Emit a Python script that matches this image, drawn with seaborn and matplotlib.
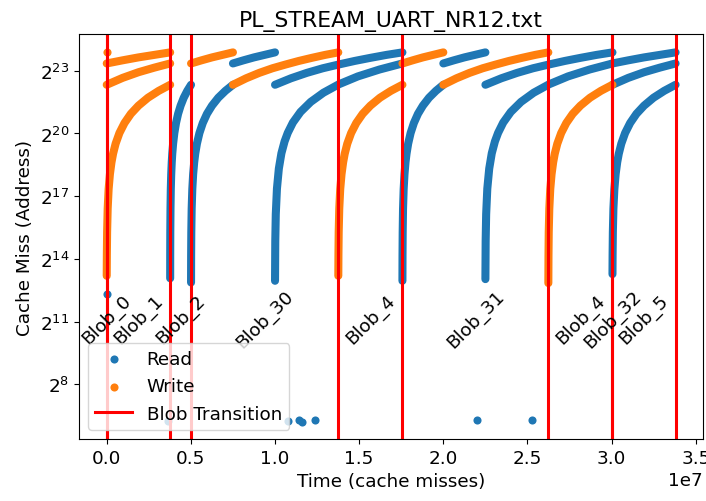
import numpy as np
import pandas as pd
import matplotlib
matplotlib.use('Agg')
import matplotlib.pyplot as plt
import seaborn as sns

plt.rcParams['font.family'] = ['DejaVu Sans']
plt.rcParams['font.size'] = 13.2

# Blob transitions (millions of cache misses), two pairs coincide
transitions = [0.0, 0.0, 3.77, 5.01, 13.76, 17.57, 26.24, 30.05, 30.05, 33.80]
blob_names = ['Blob_0', 'Blob_1', 'Blob_2', 'Blob_30', 'Blob_4',
              'Blob_31', 'Blob_4', 'Blob_32', 'Blob_5']

# address levels (log2)
band_mid_top = [23.35, 23.50, 23.64, 23.76, 23.88]
band_low_mid = [22.33, 22.66, 22.93, 23.15, 23.35]
band_low_top = [22.33, 22.64, 22.90, 23.12, 23.30, 23.47, 23.62, 23.76, 23.88]

# ---- Read streams: time (1e6 misses) and log2 address ----
r1_t = [3.77, 3.772, 3.777, 3.789, 3.807, 3.832, 3.863, 3.894, 3.944, 4.018, 4.117, 4.241, 4.39, 4.576, 4.787, 5.01]
r1_p = [13.07, 14.18, 15.27, 16.40, 17.34, 18.05, 18.62, 19.03, 19.51, 20.02, 20.50, 20.94, 21.33, 21.71, 22.04, 22.33]
r2_t = [5.01, 5.015, 5.025, 5.047, 5.085, 5.135, 5.197, 5.259, 5.359, 5.508, 5.707, 5.956, 6.255, 6.629, 7.052, 7.5]
r2_p = [12.87, 14.15, 15.26, 16.40, 17.34, 18.05, 18.62, 19.03, 19.51, 20.02, 20.50, 20.94, 21.33, 21.71, 22.04, 22.33]
r3_t = [7.5, 8.125, 8.75, 9.375, 10.0]
r4_t = [10.0, 10.015, 10.045, 10.114, 10.227, 10.379, 10.568, 10.757, 11.06, 11.514, 12.12, 12.877, 13.785, 14.921, 16.207, 17.57]
r4_p = [12.95, 14.85, 16.14, 17.36, 18.32, 19.05, 19.62, 20.03, 20.52, 21.03, 21.51, 21.95, 22.35, 22.73, 23.06, 23.35]
r5_t = [10.0, 10.946, 11.893, 12.839, 13.785, 14.731, 15.678, 16.624, 17.57]
r6_t = [17.57, 17.575, 17.585, 17.606, 17.643, 17.692, 17.752, 17.813, 17.91, 18.056, 18.25, 18.493, 18.785, 19.15, 19.563, 20.0]
r6_p = [12.95, 14.17, 15.27, 16.40, 17.34, 18.05, 18.62, 19.03, 19.51, 20.02, 20.50, 20.94, 21.33, 21.71, 22.04, 22.33]
r7_t = [20.0, 20.625, 21.25, 21.875, 22.5]
r8_t = [22.5, 22.515, 22.545, 22.613, 22.727, 22.878, 23.066, 23.255, 23.557, 24.01, 24.614, 25.369, 26.275, 27.408, 28.691, 30.05]
r8_p = [13.03, 14.85, 16.14, 17.36, 18.32, 19.05, 19.62, 20.03, 20.52, 21.03, 21.51, 21.95, 22.35, 22.73, 23.06, 23.35]
r9_t = [22.5, 23.444, 24.388, 25.331, 26.275, 27.219, 28.163, 29.106, 30.05]
r10_t = [30.05, 30.988, 31.925, 32.863, 33.8]
r12_t = [30.05, 30.058, 30.073, 30.106, 30.163, 30.238, 30.331, 30.425, 30.575, 30.8, 31.1, 31.475, 31.925, 32.488, 33.125, 33.8]
r12_p = [13.27, 14.23, 15.29, 16.41, 17.34, 18.05, 18.62, 19.03, 19.51, 20.02, 20.50, 20.94, 21.33, 21.71, 22.04, 22.33]

# isolated read misses
read_dot_t = [0.0, 3.66, 10.8, 11.4, 11.6, 12.4, 22.0, 25.25]
read_dot_p = [12.32, 6.25, 6.22, 6.27, 6.20, 6.29, 6.29, 6.29]

# ---- Write streams ----
w1_t = [0.0, 0.943, 1.885, 2.828, 3.77]
w3_t = [0.0, 0.008, 0.023, 0.057, 0.113, 0.189, 0.283, 0.377, 0.528, 0.754, 1.056, 1.433, 1.885, 2.451, 3.091, 3.77]
w3_p = [13.19, 14.20, 15.28, 16.41, 17.34, 18.05, 18.62, 19.03, 19.51, 20.02, 20.50, 20.94, 21.33, 21.71, 22.04, 22.33]
w4_t = [5.01, 5.633, 6.255, 6.878, 7.5]
w5_t = [7.5, 8.283, 9.065, 9.848, 10.63, 11.413, 12.195, 12.978, 13.76]
w6_t = [13.76, 13.768, 13.783, 13.817, 13.874, 13.951, 14.046, 14.141, 14.293, 14.522, 14.827, 15.208, 15.665, 16.237, 16.884, 17.57]
w6_p = [13.19, 14.20, 15.28, 16.41, 17.34, 18.05, 18.62, 19.03, 19.51, 20.02, 20.50, 20.94, 21.33, 21.71, 22.04, 22.33]
w7_t = [17.57, 18.178, 18.785, 19.393, 20.0]
w8_t = [20.0, 20.78, 21.56, 22.34, 23.12, 23.9, 24.68, 25.46, 26.24]
w9_t = [26.24, 26.248, 26.263, 26.297, 26.354, 26.431, 26.526, 26.621, 26.773, 27.002, 27.307, 27.688, 28.145, 28.717, 29.364, 30.05]
w9_p = [12.84, 14.13, 15.26, 16.40, 17.34, 18.05, 18.62, 19.03, 19.51, 20.02, 20.50, 20.94, 21.33, 21.71, 22.04, 22.33]

write_dot_t = [0.0]
write_dot_p = [23.88]

read_segments = [(r1_t, r1_p), (r2_t, r2_p), (r3_t, band_mid_top), (r4_t, r4_p),
                 (r5_t, band_low_top), (r6_t, r6_p), (r7_t, band_mid_top), (r8_t, r8_p),
                 (r9_t, band_low_top), (r10_t, band_mid_top), (r10_t, band_low_mid),
                 (r12_t, r12_p)]
write_segments = [(w1_t, band_mid_top), (w1_t, band_low_mid), (w3_t, w3_p),
                  (w4_t, band_mid_top), (w5_t, band_low_top), (w6_t, w6_p),
                  (w7_t, band_mid_top), (w8_t, band_low_top), (w9_t, w9_p)]

frames = []
for kind, segs in [('Read', read_segments), ('Write', write_segments)]:
    for i, (t, p) in enumerate(segs):
        frames.append(pd.DataFrame({'time': np.array(t) * 1e6, 'addr': p,
                                    'kind': kind, 'seg': f'{kind}_{i}'}))
streams = pd.concat(frames, ignore_index=True)

blue, orange = '#1f77b4', '#ff7f0e'

fig, ax = plt.subplots(figsize=(7.06, 5.02), dpi=100)
fig.subplots_adjust(left=0.1115, right=0.9953, bottom=0.1235, top=0.9303)

# isolated misses (also give the legend markers)
sns.scatterplot(x=np.array(read_dot_t) * 1e6, y=read_dot_p, color=blue, s=34,
                linewidth=0, label='Read', ax=ax)
sns.scatterplot(x=np.array(write_dot_t) * 1e6, y=write_dot_p, color=orange, s=34,
                linewidth=0, label='Write', ax=ax)

# streaming misses drawn as thick dotted-looking bands
sns.lineplot(data=streams, x='time', y='addr', hue='kind', hue_order=['Read', 'Write'],
             palette={'Read': blue, 'Write': orange}, units='seg', estimator=None,
             sort=False, linewidth=5.8, solid_capstyle='round', legend=False, ax=ax)

for i, x in enumerate(transitions):
    ax.axvline(x * 1e6, color='red', linewidth=2.2,
               label='Blob Transition' if i == 0 else '_nolegend_')

mids = [(a + b) / 2 for a, b in zip(transitions[:-1], transitions[1:])]
for m, name in zip(mids, blob_names):
    ax.text(m * 1e6, 11.12, name, rotation=45, ha='center', va='center')

ax.set_xlim(-1.664e6, 35.41e6)
ax.set_ylim(5.38, 24.76)
yt = [8, 11, 14, 17, 20, 23]
ax.set_yticks(yt)
ax.set_yticklabels([f'$\\mathdefault{{2^{{{k}}}}}$' for k in yt])
ax.set_title('PL_STREAM_UART_NR12.txt', fontsize=15.8)
ax.set_xlabel('Time (cache misses)')
ax.set_ylabel('Cache Miss (Address)')

handles, labels = ax.get_legend_handles_labels()
ax.legend(handles, labels, loc='lower left')

fig.savefig('out.png', dpi=100)
